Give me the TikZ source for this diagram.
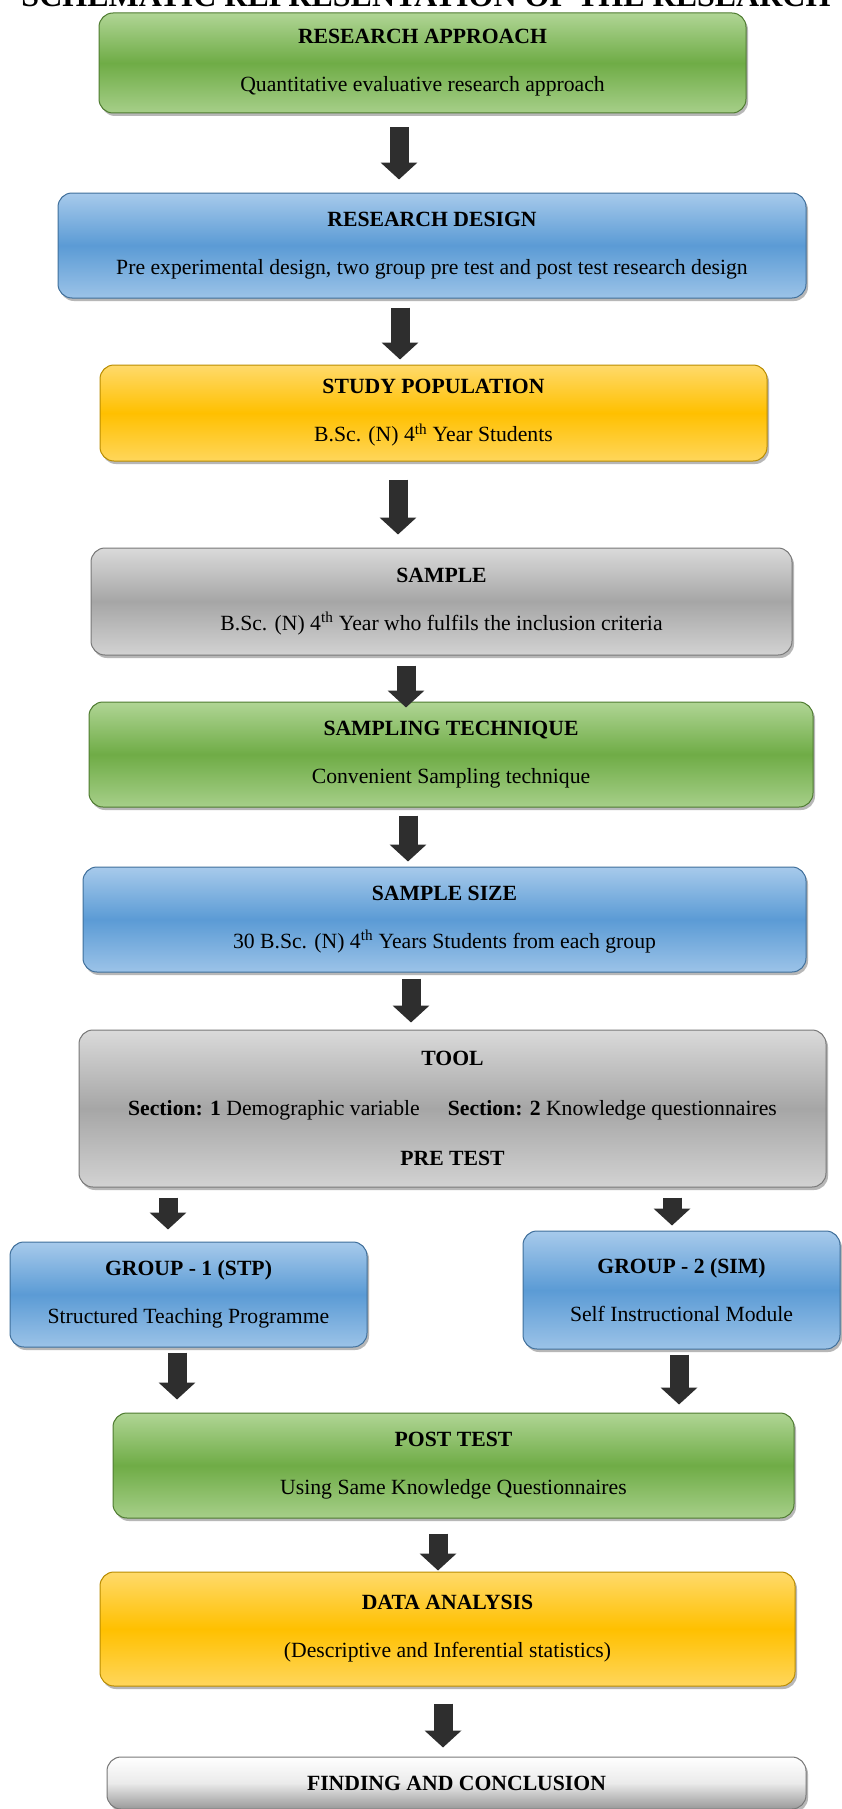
\documentclass[tikz,border=0pt]{standalone}
\usepackage{fontspec}
\setmainfont{Liberation Serif}
\usetikzlibrary{shadows,arrows.meta}

\definecolor{grnTop}{HTML}{B0D595}
\definecolor{grnMid}{HTML}{6FAC46}
\definecolor{grnEdge}{HTML}{4E7B30}
\definecolor{bluTop}{HTML}{A7CAEB}
\definecolor{bluMid}{HTML}{5B9BD5}
\definecolor{bluEdge}{HTML}{3F6F9B}
\definecolor{gldTop}{HTML}{FFDA6B}
\definecolor{gldMid}{HTML}{FFC000}
\definecolor{gldEdge}{HTML}{B98C00}
\definecolor{gryTop}{HTML}{DADADA}
\definecolor{gryMid}{HTML}{A6A6A6}
\definecolor{gryEdge}{HTML}{787878}
\definecolor{arrowgray}{HTML}{2E2E2E}

\tikzset{
  box/.style={rounded corners=14pt, align=center, inner sep=0pt, line width=1pt,
    font=\fontsize{21.7}{48}\selectfont,
    drop shadow={shadow xshift=2pt, shadow yshift=-3pt, opacity=0.4, fill=black!70}},
  greenbox/.style={box, draw=grnEdge, top color=grnTop, bottom color=grnTop!85!grnMid, middle color=grnMid},
  bluebox/.style={box, draw=bluEdge, top color=bluTop, bottom color=bluTop!85!bluMid, middle color=bluMid},
  goldbox/.style={box, draw=gldEdge, top color=gldTop, bottom color=gldTop!85!gldMid, middle color=gldMid},
  graybox/.style={box, draw=gryEdge, top color=gryTop, bottom color=gryTop!85!gryMid, middle color=gryMid},
  whitebox/.style={box, draw=gryEdge, top color=white, bottom color=black!40, middle color=black!8},
  blk/.style 2 args={draw=arrowgray, line width=19pt,
    -{Triangle[width=36pt,length=17pt]}, shorten <=#1pt, shorten >=#2pt},
}

\begin{document}
\begin{tikzpicture}[x=1pt, y=-1pt]
\fill[white] (0,0) rectangle (841,1809);
\useasboundingbox (0,0) rectangle (841,1809);

\node[font=\fontsize{32}{32}\selectfont\bfseries, anchor=base] (title) at (426,7)
  {SCHEMATIC REPRESENTATION OF THE RESEARCH};

% main column
\node[greenbox, minimum width=647pt, minimum height=100pt] (approach) at (422.5,63)
  {\textbf{RESEARCH APPROACH}\\Quantitative evaluative research approach};
\node[bluebox, minimum width=748pt, minimum height=105pt] (design) at (432,245.5)
  {\textbf{RESEARCH DESIGN}\\Pre experimental design, two group pre test and post test research design};
\node[goldbox, minimum width=667pt, minimum height=96pt] (population) at (433.5,413)
  {\textbf{STUDY POPULATION}\\B.Sc. (N) 4\textsuperscript{th} Year Students};
\node[graybox, minimum width=701pt, minimum height=107pt] (sample) at (441.5,601.5)
  {\textbf{SAMPLE}\\B.Sc. (N) 4\textsuperscript{th} Year who fulfils the inclusion criteria};
\node[greenbox, minimum width=724pt, minimum height=105pt] (technique) at (451,754.5)
  {\textbf{SAMPLING TECHNIQUE}\\Convenient Sampling technique};
\node[bluebox, minimum width=723pt, minimum height=105pt] (size) at (444.5,919.5)
  {\textbf{SAMPLE SIZE}\\30 B.Sc. (N) 4\textsuperscript{th} Years Students from each group};
\node[graybox, minimum width=747pt, minimum height=157pt, font=\fontsize{21.7}{50}\selectfont] (tool) at (452.5,1108.5)
  {\textbf{TOOL}\\\textbf{Section: 1} Demographic variable\hspace{28pt}\textbf{Section: 2} Knowledge questionnaires\\\textbf{PRE TEST}};

% the two groups
\node[bluebox, minimum width=357pt, minimum height=105pt] (stp) at (188.5,1294.5)
  {\textbf{GROUP - 1 (STP)}\\Structured Teaching Programme};
\node[bluebox, minimum width=317pt, minimum height=118pt] (sim) at (681.5,1290)
  {\textbf{GROUP - 2 (SIM)}\\Self Instructional Module};

\node[greenbox, minimum width=681pt, minimum height=105pt] (posttest) at (453.5,1465.5)
  {\textbf{POST TEST}\\Using Same Knowledge Questionnaires};
\node[goldbox, minimum width=695pt, minimum height=114pt] (analysis) at (447.5,1629)
  {\textbf{DATA ANALYSIS}\\(Descriptive and Inferential statistics)};
\node[whitebox, minimum width=699pt, minimum height=52pt] (finding) at (456.5,1783)
  {\textbf{FINDING AND CONCLUSION}};

% block arrows
\draw[blk={14}{13}] (approach.south -| 399,0) -- (design.north -| 399,0);
\draw[blk={9}{5}] (design.south -| 400,0) -- (population.north -| 400,0);
\draw[blk={18}{13}] (population.south -| 398,0) -- (sample.north -| 398,0);
\draw[blk={10}{-6}] (sample.south -| 406,0) -- (technique.north -| 406,0);
\draw[blk={8}{5}] (technique.south -| 408,0) -- (size.north -| 408,0);
\draw[blk={6}{7}] (size.south -| 411,0) -- (tool.north -| 411,0);
\draw[blk={10}{12}] (tool.south -| 168,0) -- (stp.north -| 168,0);
\draw[blk={10}{5}] (tool.south -| 672,0) -- (sim.north -| 672,0);
\draw[blk={5}{13}] (stp.south -| 177,0) -- (posttest.north -| 177,0);
\draw[blk={5}{8}] (sim.south -| 679,0) -- (posttest.north -| 679,0);
\draw[blk={15}{1}] (posttest.south -| 438,0) -- (analysis.north -| 438,0);
\draw[blk={17}{9}] (analysis.south -| 443,0) -- (finding.north -| 443,0);
\end{tikzpicture}
\end{document}
